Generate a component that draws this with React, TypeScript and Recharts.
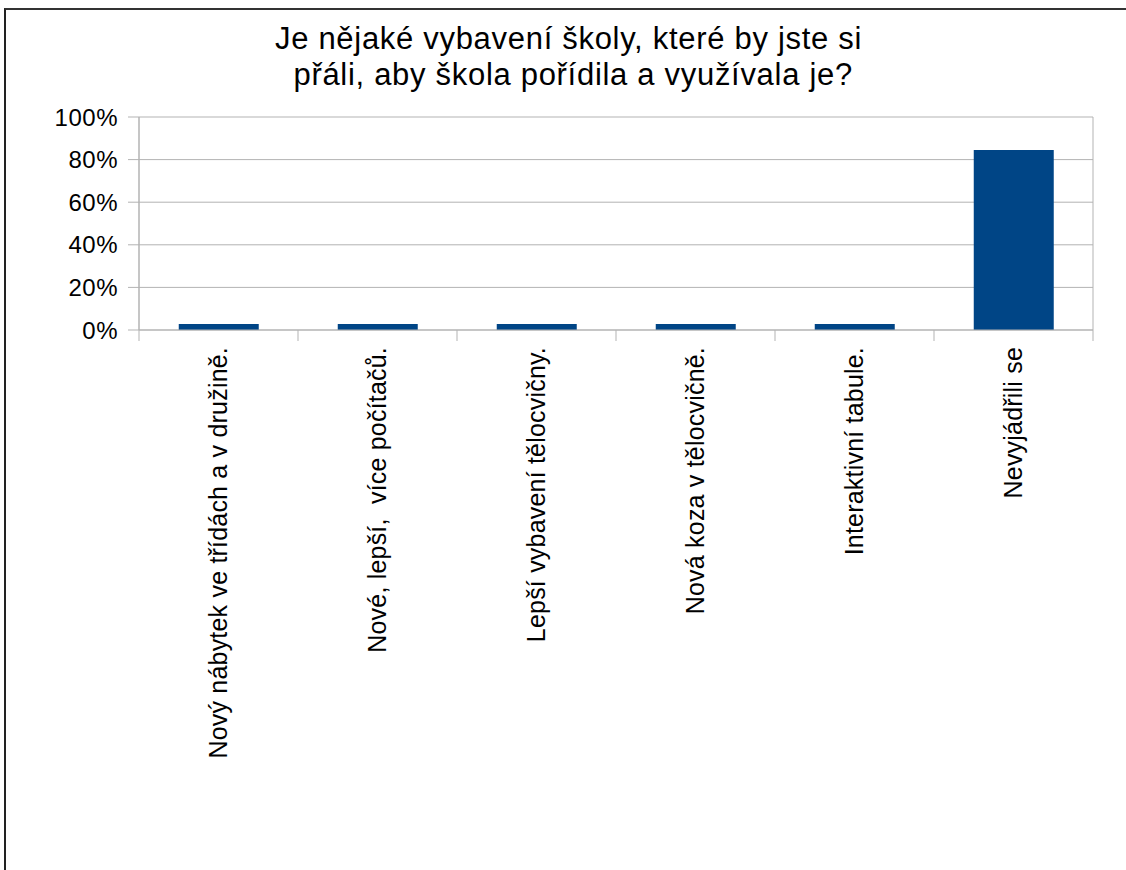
import React from 'react';
import { BarChart, Bar, XAxis, YAxis, CartesianGrid } from 'recharts';

const categories = [
  'Nový nábytek ve třídách a v družině.',
  'Nové, lepší,  více počítačů.',
  'Lepší vybavení tělocvičny.',
  'Nová koza v tělocvičně.',
  'Interaktivní tabule.',
  'Nevyjádřili se',
];
const values = [0.028, 0.028, 0.028, 0.028, 0.028, 0.845];
const yTicks = [0, 0.2, 0.4, 0.6, 0.8, 1];
const titleLines = ['Je nějaké vybavení školy, které by jste si', ' přáli, aby škola pořídila a využívala je?'];

const data = categories.map((name, i) => ({ name, value: values[i] }));

const FONT = '"Liberation Sans", Arial, sans-serif';
const GRID = '#b3b3b3';

const XTick = (props: any) => {
  const { x, y, payload, index, width, visibleTicksCount } = props;
  const count = visibleTicksCount || categories.length;
  const half = (width || 954) / count / 2;
  const ty = y + 17;
  return (
    <g>
      {index === 0 && <line x1={x - half} x2={x - half} y1={y} y2={y + 11} stroke={GRID} strokeWidth={1} />}
      <line x1={x + half} x2={x + half} y1={y} y2={y + 11} stroke={GRID} strokeWidth={1} />
      <text
        x={x}
        y={ty}
        dy="0.35em"
        textAnchor="end"
        transform={`rotate(-90, ${x}, ${ty})`}
        fill="#000"
        fontSize={25}
        fontFamily={FONT}
        letterSpacing={0.2}
        style={{ whiteSpace: 'pre' }}
      >
        {payload.value}
      </text>
    </g>
  );
};

export default function App() {
  return (
    <div style={{ position: 'absolute', left: 0, top: 0, width: 1126, height: 870, background: '#fff', overflow: 'hidden' }}>
      <div
        style={{
          position: 'absolute',
          left: 4,
          top: 8,
          width: 1126,
          height: 870,
          borderTop: '2px solid #333',
          borderLeft: '2px solid #222',
          boxSizing: 'border-box',
        }}
      />
      <div
        style={{
          position: 'absolute',
          left: 0,
          top: 21,
          width: 1137,
          textAlign: 'center',
          fontFamily: FONT,
          fontSize: 31,
          letterSpacing: '0.7px',
          lineHeight: '36px',
          whiteSpace: 'pre',
          color: '#000',
        }}
      >
        {titleLines.map((t, i) => (
          <div key={i}>{t}</div>
        ))}
      </div>
      <div style={{ position: 'absolute', left: 0, top: 0 }}>
        <BarChart width={1126} height={870} data={data} margin={{ top: 117, right: 33, left: 0, bottom: 0 }} barCategoryGap="25%">
          <CartesianGrid
            stroke={GRID}
            vertical={true}
            verticalCoordinatesGenerator={(p: any) => [p.offset.left, p.offset.left + p.offset.width]}
          />
          <XAxis
            dataKey="name"
            height={540}
            interval={0}
            tickLine={false}
            tickSize={0}
            tickMargin={0}
            axisLine={{ stroke: GRID }}
            tick={<XTick />}
          />
          <YAxis
            width={139}
            domain={[0, 1]}
            ticks={yTicks}
            tickSize={11}
            tickMargin={10}
            tickLine={{ stroke: GRID }}
            axisLine={{ stroke: GRID }}
            tickFormatter={(v: number) => `${Math.round(v * 100)}%`}
            tick={{ fill: '#000', fontSize: 24, fontFamily: FONT, letterSpacing: 0.5 }}
          />
          <Bar dataKey="value" fill="#004586" isAnimationActive={false} />
        </BarChart>
      </div>
    </div>
  );
}
